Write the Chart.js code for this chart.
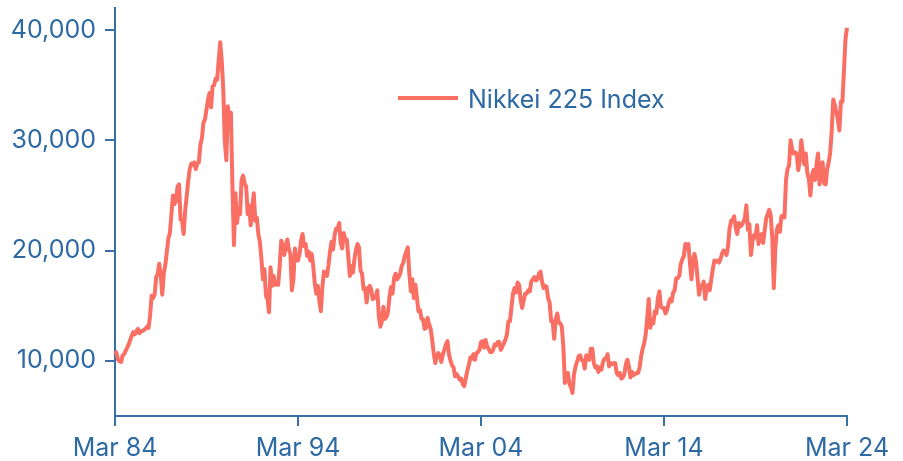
<!DOCTYPE html>
<html>
<head>
<meta charset="utf-8">
<script src="https://cdn.jsdelivr.net/npm/chart.js@4.4.1/dist/chart.umd.min.js"></script>
<style>
  html, body { margin: 0; padding: 0; background: #ffffff; }
  #wrap { width: 903px; height: 461px; }
</style>
</head>
<body>
<div id="wrap"><canvas id="c" width="903" height="461"></canvas></div>
<script>
// ---------- DATA ----------
const seriesName = 'Nikkei 225 Index';
const startYear = 1984;
const startMonthIndex = 2; // March
const monthNames = ['Jan','Feb','Mar','Apr','May','Jun','Jul','Aug','Sep','Oct','Nov','Dec'];

// Monthly index level, Mar 1984 -> Mar 2024
const nikkei = [
  /*1984*/ 10900, 10700, 10100, 9950, 9900, 10500, 10600, 10900, 11200, 11500,
  /*1985*/ 11900, 12300, 12600, 12400, 12700, 12900, 12500, 12700, 12700, 12800, 12900, 13100,
  /*1986*/ 13000, 14100, 15900, 15700, 16000, 17600, 17900, 18800, 17800, 16000, 17900, 18700,
  /*1987*/ 19900, 21100, 21600, 23300, 25000, 24200, 24500, 25800, 26000, 22800, 22700, 21500,
  /*1988*/ 23600, 24900, 26300, 27400, 27900, 27800, 28000, 27400, 27900, 28000, 29600, 30200,
  /*1989*/ 31600, 31900, 32800, 33700, 34300, 33000, 34900, 35000, 35600, 35500, 37300, 38900,
  /*1990*/ 37200, 34600, 29900, 28200, 33100, 31900, 32500, 25900, 20500, 25200, 22500, 23800,
  /*1991*/ 23300, 26400, 26800, 26100, 25800, 23300, 24100, 22300, 23900, 25200, 22700, 23000,
  /*1992*/ 21500, 20800, 19300, 17400, 18300, 15900, 15600, 14400, 18500, 16800, 17700, 16900,
  /*1993*/ 17000, 16900, 18600, 20900, 20500, 19600, 20400, 21000, 20100, 19700, 16400, 17400,
  /*1994*/ 20200, 19100, 19100, 19700, 20900, 21500, 20400, 20600, 19500, 19900, 19100, 19700,
  /*1995*/ 18600, 17000, 16100, 16800, 15400, 14500, 16700, 18100, 17900, 17700, 18700, 19900,
  /*1996*/ 20800, 20100, 21400, 22000, 21900, 22500, 20700, 20200, 21600, 21000, 21000, 19400,
  /*1997*/ 17700, 18600, 18000, 19200, 20100, 20600, 20300, 18200, 17900, 16500, 16600, 15300,
  /*1998*/ 16600, 16800, 16500, 15600, 15700, 15800, 16400, 14100, 13100, 13600, 14900, 13800,
  /*1999*/ 14000, 14400, 15800, 16700, 16100, 17500, 17900, 17400, 17600, 17900, 18600, 18900,
  /*2000*/ 19500, 19900, 20300, 17900, 16300, 17400, 15700, 16900, 15700, 14500, 14600, 13800,
  /*2001*/ 13800, 12900, 13000, 13900, 13300, 12900, 11900, 10700, 9800, 10400, 10700, 10500,
  /*2002*/ 9900, 10600, 11000, 11500, 11800, 10600, 10000, 9600, 9400, 8600, 8800, 8600,
  /*2003*/ 8300, 8400, 7900, 7700, 8400, 9100, 9600, 10300, 10200, 10600, 10100, 10700,
  /*2004*/ 10800, 11000, 11700, 11800, 11200, 11900, 11300, 11100, 10800, 10800, 11000, 11500,
  /*2005*/ 11400, 11700, 11700, 11000, 11300, 11600, 11900, 12400, 13600, 13600, 14900, 16100,
  /*2006*/ 16600, 16200, 17100, 16900, 15500, 14800, 15500, 16100, 16100, 16400, 16300, 17200,
  /*2007*/ 17400, 17600, 17300, 17400, 17900, 18100, 17200, 16600, 16800, 16700, 15700, 15300,
  /*2008*/ 13600, 13600, 12000, 13800, 14300, 13500, 13400, 13100, 11300, 8000, 8500, 8900,
  /*2009*/ 7900, 7600, 7100, 8800, 9500, 9900, 10400, 10500, 10100, 10000, 9300, 10500,
  /*2010*/ 10200, 10100, 11100, 11100, 9800, 9400, 9500, 9000, 9400, 9200, 9900, 10200,
  /*2011*/ 10200, 10600, 9500, 9800, 9700, 9800, 9800, 8900, 8700, 8900, 8400, 8500,
  /*2012*/ 8800, 9700, 10100, 9500, 8500, 9000, 8700, 8800, 8900, 8900, 9400, 10400,
  /*2013*/ 11100, 11600, 12400, 13900, 15600, 13000, 13700, 13400, 14500, 14300, 15700, 16300,
  /*2014*/ 14900, 14800, 14800, 14300, 14600, 15200, 15600, 15400, 16200, 16400, 17500, 17500,
  /*2015*/ 17700, 18800, 19200, 19500, 20600, 20200, 20600, 18900, 17400, 19100, 19700, 19000,
  /*2016*/ 17500, 16000, 16800, 16700, 17200, 15600, 16600, 16900, 16400, 17400, 18300, 19100,
  /*2017*/ 19000, 19100, 18900, 19200, 19700, 20000, 19900, 19600, 20400, 22000, 22700, 22800,
  /*2018*/ 23100, 22100, 21500, 22500, 22200, 22300, 22600, 22900, 24100, 21900, 22400, 19600,
  /*2019*/ 20800, 21400, 21200, 22300, 20600, 21300, 21500, 20700, 21800, 22900, 23300, 23700,
  /*2020*/ 23200, 21100, 16600, 20200, 21900, 22300, 21700, 23100, 23200, 23000, 26400, 27400,
  /*2021*/ 27700, 30000, 29200, 28800, 28900, 28800, 27300, 28100, 30000, 28900, 27800, 28800,
  /*2022*/ 27000, 26500, 25000, 26800, 27300, 26400, 27800, 28800, 26000, 27600, 28000, 26100,
  /*2023*/ 26000, 27400, 28000, 28900, 30900, 33700, 33200, 32600, 31900, 30900, 33500, 33500,
  /*2024*/ 36300, 39200, 40200
];

// Month categories ("Mar 84", "Apr 84", ...)
const categories = nikkei.map((_, i) => {
  const m = (startMonthIndex + i) % 12;
  const y = startYear + Math.floor((startMonthIndex + i) / 12);
  return monthNames[m] + ' ' + String(y).slice(2);
});

const xTickLabels = ['Mar 84', 'Mar 94', 'Mar 04', 'Mar 14', 'Mar 24'];
const yTickValues = [10000, 20000, 30000, 40000];

// ---------- STYLE ----------
const lineColor = '#f96f63';
const textColor = '#2d69a3';
const axisColor = '#3a6fa6';
const fontFamily = 'Inter, "Open Sans", sans-serif';
const fontSize = 25;

const inlineLegend = {
  id: 'inlineLegend',
  afterDatasetsDraw(chart) {
    const { ctx, chartArea } = chart;
    const ds = chart.data.datasets[0];
    const x0 = chartArea.left + 283;
    const y0 = chartArea.top + 90;
    ctx.save();
    ctx.strokeStyle = ds.borderColor;
    ctx.lineWidth = 4;
    ctx.beginPath();
    ctx.moveTo(x0, y0);
    ctx.lineTo(x0 + 60, y0);
    ctx.stroke();
    ctx.fillStyle = textColor;
    ctx.font = fontSize + 'px ' + fontFamily;
    ctx.textBaseline = 'middle';
    ctx.textAlign = 'left';
    ctx.fillText(ds.label, x0 + 70, y0 + 2);
    ctx.restore();
  }
};

function noPad(scale) {
  scale.paddingTop = 0; scale.paddingBottom = 0;
  scale.paddingLeft = 0; scale.paddingRight = 0;
}

function draw() {
  new Chart(document.getElementById('c'), {
    type: 'line',
    data: {
      labels: categories,
      datasets: [{
        label: seriesName,
        data: nikkei,
        borderColor: lineColor,
        backgroundColor: lineColor,
        borderWidth: 4,
        borderJoinStyle: 'round',
        pointRadius: 0,
        tension: 0,
        fill: false
      }]
    },
    options: {
      responsive: false,
      animation: false,
      devicePixelRatio: 1,
      layout: { padding: { top: 8, right: 56, left: 0, bottom: 0 } },
      plugins: {
        legend: { display: false },
        tooltip: { enabled: false }
      },
      scales: {
        x: {
          type: 'category',
          offset: false,
          afterBuildTicks: (scale) => {
            scale.ticks = xTickLabels.map(l => ({ value: categories.indexOf(l) }));
          },
          afterFit: (scale) => { scale.height = 45; noPad(scale); },
          grid: { display: true, drawOnChartArea: false, drawTicks: true, tickLength: 10, color: axisColor, lineWidth: 2 },
          border: { display: true, color: axisColor, width: 2 },
          ticks: {
            autoSkip: false, maxRotation: 0, minRotation: 0, padding: 7,
            color: textColor, font: { family: fontFamily, size: fontSize }
          }
        },
        y: {
          type: 'linear',
          min: 5000,
          max: 42000,
          afterBuildTicks: (scale) => {
            scale.ticks = yTickValues.map(v => ({ value: v }));
          },
          afterFit: (scale) => { scale.width = 115; noPad(scale); },
          grid: { display: true, drawOnChartArea: false, drawTicks: true, tickLength: 10, color: axisColor, lineWidth: 2 },
          border: { display: true, color: axisColor, width: 2 },
          ticks: {
            padding: 9,
            color: textColor,
            font: { family: fontFamily, size: fontSize },
            callback: (v) => Number(v).toLocaleString('en-US')
          }
        }
      }
    },
    plugins: [inlineLegend]
  });
}

if (document.fonts && document.fonts.load) {
  document.fonts.load(fontSize + 'px Inter').then(draw, draw);
} else {
  draw();
}
</script>
</body>
</html>
